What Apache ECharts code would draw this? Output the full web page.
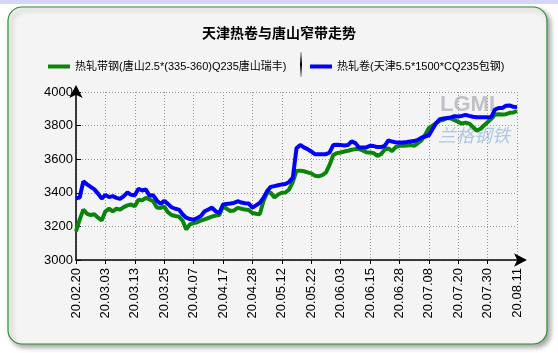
<!DOCTYPE html>
<html>
<head>
<meta charset="utf-8">
<script src="https://cdn.jsdelivr.net/npm/echarts@6/dist/echarts.min.js"></script>
<style>
    html, body { margin: 0; padding: 0; background: #fff; }
    #chart { width: 558px; height: 353px; }
</style>
</head>
<body>
<div id="chart"></div>
<script>
var titleText = '天津热卷与唐山窄带走势';
var seriesNames = ['热轧带钢(唐山2.5*(335-360)Q235唐山瑞丰)', '热轧卷(天津5.5*1500*CQ235包钢)'];

//横轴刻度(每8个交易日一个)
var xTickLabels = ['20.02.20', '20.03.03', '20.03.13', '20.03.25', '20.04.07', '20.04.17', '20.04.28', '20.05.12',
    '20.05.22', '20.06.03', '20.06.15', '20.06.28', '20.07.08', '20.07.20', '20.07.30', '20.08.11'];

//唐山窄带
var greenData = [3170, 3240, 3300, 3275, 3268, 3272, 3252, 3235, 3290, 3305,
    3290, 3305, 3300, 3315, 3325, 3330, 3320, 3358, 3355, 3370,
    3360, 3350, 3312, 3310, 3318, 3285, 3268, 3262, 3258, 3235,
    3182, 3212, 3220, 3225, 3235, 3242, 3250, 3258, 3265, 3268,
    3320, 3305, 3292, 3295, 3310, 3305, 3300, 3298, 3280, 3275,
    3272, 3350, 3400, 3400, 3372, 3390, 3400, 3402, 3420, 3465,
    3530, 3532, 3528, 3522, 3516, 3502, 3498, 3505, 3520, 3566,
    3625, 3636, 3640, 3646, 3650, 3656, 3660, 3660, 3652, 3642,
    3640, 3636, 3620, 3630, 3658, 3664, 3648, 3672, 3680, 3680,
    3682, 3684, 3680, 3695, 3712, 3745, 3785, 3800, 3814, 3830,
    3835, 3845, 3842, 3832, 3822, 3812, 3818, 3812, 3792, 3770,
    3780, 3800, 3820, 3840, 3866, 3868, 3866, 3868, 3876, 3878,
    3888];

//天津热卷
var blueData = [3368, 3372, 3468, 3450, 3435, 3420, 3395, 3365, 3388, 3374,
    3380, 3370, 3364, 3380, 3402, 3388, 3386, 3424, 3414, 3420,
    3382, 3385, 3354, 3334, 3352, 3334, 3314, 3305, 3300, 3272,
    3252, 3244, 3240, 3250, 3262, 3290, 3300, 3312, 3290, 3280,
    3330, 3334, 3336, 3340, 3350, 3342, 3338, 3336, 3312, 3325,
    3340, 3370, 3410, 3435, 3440, 3445, 3450, 3452, 3465, 3490,
    3665, 3685, 3670, 3660, 3646, 3630, 3630, 3630, 3630, 3640,
    3684, 3686, 3684, 3682, 3684, 3706, 3696, 3670, 3670, 3670,
    3680, 3678, 3672, 3672, 3680, 3712, 3705, 3700, 3700, 3700,
    3702, 3705, 3708, 3715, 3728, 3735, 3742, 3778, 3815, 3838,
    3842, 3845, 3849, 3856, 3854, 3858, 3864, 3858, 3853, 3850,
    3850, 3850, 3849, 3852, 3895, 3905, 3905, 3918, 3920, 3912,
    3910];

var categories = [];
for (var i = 0; i < blueData.length; i++) categories.push(String(i));

var labelFont = "'Liberation Sans', 'Noto Sans CJK SC', sans-serif";
var legendText = { fontSize: 11, color: '#000', fontFamily: labelFont };

var myChart = echarts.init(document.getElementById('chart'), null, { renderer: 'canvas' });

var option = {
    backgroundColor: '#ffffff',
    animation: false,
    title: {
        text: titleText,
        left: 'center',
        top: 21,
        textStyle: { fontSize: 14, fontWeight: 'bold', color: '#000', fontFamily: "'Noto Sans CJK SC', sans-serif" }
    },
    legend: [
        {
            left: 43, top: 56, itemWidth: 22, itemHeight: 4, icon: 'rect',
            textStyle: legendText, data: [seriesNames[0]]
        },
        {
            left: 305, top: 56, itemWidth: 22, itemHeight: 4, icon: 'rect',
            textStyle: legendText, data: [seriesNames[1]]
        }
    ],
    grid: { left: 76, right: 41, top: 92, bottom: 93, containLabel: false },
    graphic: [
        { type: 'rect', z: -10, shape: { x: 0, y: 0, width: 558, height: 4 }, style: { fill: '#d6d6f6' } },
        {
            type: 'rect', z: -9,
            shape: { x: 8, y: 7, width: 539, height: 337, r: 14 },
            style: {
                fill: '#f4f4f4', stroke: '#2f8f2f', lineWidth: 1.2,
                shadowBlur: 5, shadowOffsetX: 3, shadowOffsetY: 3, shadowColor: 'rgba(0,0,0,0.35)'
            }
        },
        {
            type: 'line', z: 5,
            shape: { x1: 301, y1: 52, x2: 301, y2: 77 },
            style: {
                lineWidth: 2,
                stroke: new echarts.graphic.LinearGradient(0, 0, 0, 1, [
                    { offset: 0, color: 'rgba(0,0,0,0)' },
                    { offset: 0.5, color: 'rgba(0,0,0,1)' },
                    { offset: 1, color: 'rgba(0,0,0,0)' }
                ])
            }
        },
        //水印
        {
            type: 'text', z: 1, left: 440, top: 94,
            style: { text: 'LGMI', fontSize: 22, fontWeight: 'bold', fill: 'rgba(150,150,160,0.55)', fontFamily: labelFont }
        },
        {
            type: 'text', z: 1, left: 438, top: 126,
            style: { text: '兰格钢铁', fontSize: 18, fontStyle: 'italic', fill: 'rgba(120,160,210,0.55)', fontFamily: "'Noto Sans CJK SC', sans-serif" }
        }
    ],
    xAxis: {
        type: 'category',
        boundaryGap: false,
        data: categories,
        axisLine: {
            lineStyle: { color: '#000', width: 1.5 },
            symbol: ['none', 'arrow'],
            symbolSize: [10, 13],
            symbolOffset: [0, 10]
        },
        axisTick: { interval: 7, length: 4, inside: false, lineStyle: { color: '#000' } },
        axisLabel: {
            interval: 7,
            rotate: 90,
            margin: 8,
            fontSize: 13,
            color: '#000',
            fontFamily: labelFont,
            formatter: function (value) {
                var k = Number(value);
                return k % 8 === 0 ? xTickLabels[k / 8] : '';
            }
        },
        splitLine: { show: true, interval: 7, lineStyle: { color: '#999', type: [1, 2], width: 1 } }
    },
    yAxis: {
        type: 'value',
        min: 3000,
        max: 4000,
        interval: 200,
        axisLine: {
            show: true,
            lineStyle: { color: '#000', width: 1.5 },
            symbol: ['none', 'arrow'],
            symbolSize: [10, 13],
            symbolOffset: [0, 7]
        },
        axisTick: { show: true, inside: true, length: 5, lineStyle: { color: '#000' } },
        axisLabel: {
            margin: 3, fontSize: 13, color: '#000', fontFamily: labelFont,
            formatter: function (v) { return String(v); }
        },
        splitLine: { show: true, lineStyle: { color: '#999', type: [1, 2], width: 1 } }
    },
    series: [
        {
            name: seriesNames[0],
            type: 'line',
            symbol: 'none',
            smooth: false,
            itemStyle: { color: '#0a840a' },
            lineStyle: { color: '#0a840a', width: 4 },
            data: greenData
        },
        {
            name: seriesNames[1],
            type: 'line',
            symbol: 'none',
            smooth: false,
            itemStyle: { color: '#0000ff' },
            lineStyle: { color: '#0000ff', width: 4 },
            data: blueData
        }
    ]
};

myChart.setOption(option);
</script>
</body>
</html>
